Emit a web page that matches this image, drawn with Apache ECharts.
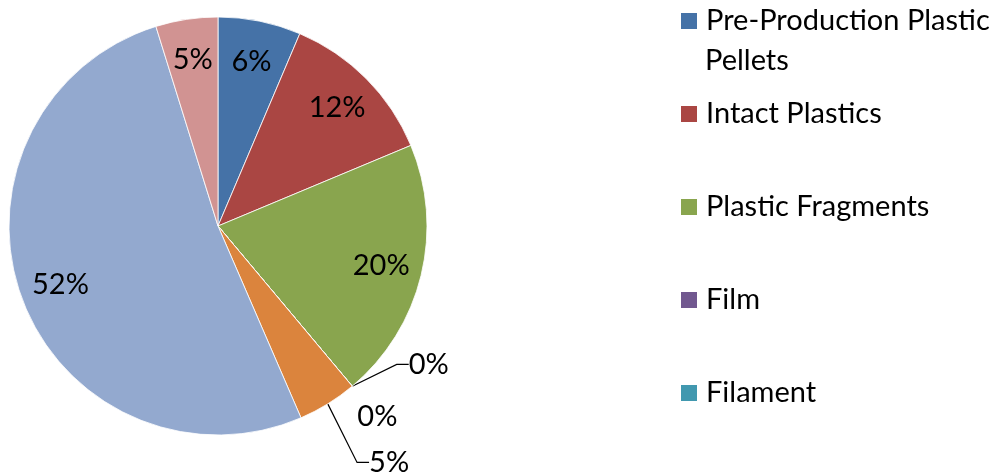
<!DOCTYPE html>
<html>
<head>
<meta charset="utf-8">
<script src="https://cdn.jsdelivr.net/npm/echarts@6/dist/echarts.min.js"></script>
<style>
  html, body { margin: 0; padding: 0; background: #fff; }
  #chart { width: 1000px; height: 476px; }
</style>
</head>
<body>
<div id="chart"></div>
<script>
// slices, clockwise from 12 o'clock
var categories = ['Pre-Production Plastic Pellets', 'Intact Plastics', 'Plastic Fragments', 'Film', 'Filament', 'Foam', 'Other Debris', 'Unknown'];
// share of items (%)
var values = [6.4, 12.3, 20.2, 0, 0, 4.6, 51.7, 4.8];
// only the first five entries of the legend fit in the picture
var legendNames = categories.slice(0, 5);
var colors = ['#4572A7', '#AA4643', '#89A54E', '#71588F', '#4198AF', '#DB843D', '#93A9CF', '#D19392'];

var FONT = 'Lato';
var FONT_SIZE = 29;
var outsideIdx = [3, 4, 5];   // small slices labelled outside the pie
var noLineIdx = [4];          // label that sits close enough to need no leader
// nudges for the outside labels, like the hand placed ones in the original
var labelShift = { 3: [4, -31], 4: [-25, -10], 5: [18, 5] };

var chart = echarts.init(document.getElementById('chart'));

function pct(p) {
  return Math.round(p.percent) + '%';
}

var sliceData = categories.map(function (name, i) {
  var out = outsideIdx.indexOf(i) >= 0;
  return {
    name: name,
    value: values[i],
    label: { show: out },
    labelLine: { show: out && noLineIdx.indexOf(i) < 0 }
  };
});

var labelData = categories.map(function (name, i) {
  return {
    name: name,
    value: values[i],
    label: { show: outsideIdx.indexOf(i) < 0 }
  };
});

chart.setOption({
  animation: false,
  color: colors,
  textStyle: { fontFamily: FONT },
  legend: {
    orient: 'vertical',
    left: 679,
    top: 3,
    padding: 0,
    data: legendNames,
    icon: 'rect',
    itemWidth: 18,
    itemHeight: 18,
    itemGap: 57,
    selectedMode: false,
    formatter: function (name) {
      return name === 'Pre-Production Plastic Pellets' ? 'Pre-Production Plastic' : name;
    },
    textStyle: { fontFamily: FONT, fontSize: FONT_SIZE, color: '#000', lineHeight: 36, padding: [0, 0, 0, 3] }
  },
  graphic: [{
    type: 'text',
    left: 705,
    top: 46,
    style: { text: 'Pellets', fontFamily: FONT, fontSize: FONT_SIZE, fill: '#000' }
  }],
  series: [{
    type: 'pie',
    center: [218, 226],
    radius: [0, 209],
    startAngle: 90,
    clockwise: true,
    avoidLabelOverlap: true,
    itemStyle: { borderColor: '#fff', borderWidth: 0.8 },
    emphasis: { disabled: true },
    label: {
      position: 'outside',
      formatter: pct,
      fontFamily: FONT,
      fontSize: FONT_SIZE,
      color: '#000'
    },
    labelLine: {
      length: 12,
      length2: 12,
      minTurnAngle: 30,
      lineStyle: { color: '#000', width: 1.2 }
    },
    labelLayout: function (p) {
      var s = labelShift[p.dataIndex];
      if (!s) return {};
      return {
        x: p.labelRect.x + s[0],
        y: p.labelRect.y + s[1],
        align: 'left',
        verticalAlign: 'top'
      };
    },
    data: sliceData
  }, {
    // transparent ring only used to place the inner percentage labels
    type: 'pie',
    center: [218, 226],
    radius: [121, 209],
    startAngle: 90,
    clockwise: true,
    silent: true,
    itemStyle: { color: 'rgba(0,0,0,0)' },
    emphasis: { disabled: true },
    label: {
      position: 'inside',
      formatter: pct,
      fontFamily: FONT,
      fontSize: FONT_SIZE,
      color: '#000'
    },
    labelLine: { show: false },
    data: labelData
  }]
});
</script>
</body>
</html>
